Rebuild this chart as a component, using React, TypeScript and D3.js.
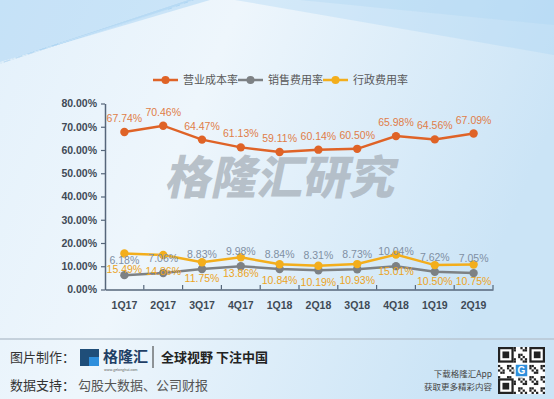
import { useEffect, useRef } from 'react';
import * as d3 from 'd3';

const categories = ['1Q17', '2Q17', '3Q17', '4Q17', '1Q18', '2Q18', '3Q18', '4Q18', '1Q19', '2Q19'];
const costRate = [67.74, 70.46, 64.47, 61.13, 59.11, 60.14, 60.5, 65.98, 64.56, 67.09];
const salesRate = [6.18, 7.06, 8.83, 9.98, 8.84, 8.31, 8.73, 10.04, 7.62, 7.05];
const adminRate = [15.49, 14.86, 11.75, 13.86, 10.84, 10.19, 10.93, 15.01, 10.5, 10.75];
const yTicks = [0, 10, 20, 30, 40, 50, 60, 70, 80];
const seriesNames = ['营业成本率', '销售费用率', '行政费用率'];

const W = 554;
const H = 399;
const FONT = '"Noto Sans CJK SC", "Liberation Sans", Arial, sans-serif';

export default function App() {
  const svgRef = useRef<SVGSVGElement>(null);

  useEffect(() => {
    document.body.style.margin = '0';
    if (!svgRef.current) return;
    const svg = d3.select(svgRef.current);
    svg.selectAll('*').remove();

    // background
    const defs = svg.append('defs');
    const bg = defs.append('linearGradient').attr('id', 'bg').attr('x1', 0).attr('y1', 0).attr('x2', 1).attr('y2', 0.3);
    bg.append('stop').attr('offset', '0%').attr('stop-color', '#e4f1fb');
    bg.append('stop').attr('offset', '40%').attr('stop-color', '#eef6fc');
    bg.append('stop').attr('offset', '100%').attr('stop-color', '#cbe4f6');
    svg.append('rect').attr('width', W).attr('height', H).attr('fill', 'url(#bg)');

    // decorative streaks
    const streak = svg.append('g').attr('fill', 'none');
    d3.range(0, 14).forEach((i) => {
      streak.append('line')
        .attr('x1', -20 + i * 6).attr('y1', 70 - i * 2)
        .attr('x2', 220 - i * 4).attr('y2', -10 + i * 1.5)
        .attr('stroke', i % 2 ? '#ffffff' : '#9fcdf0')
        .attr('stroke-opacity', 0.5)
        .attr('stroke-width', 1);
    });
    svg.append('path')
      .attr('d', 'M0,0 L210,0 L0,62 Z')
      .attr('fill', '#8cc6f0').attr('fill-opacity', 0.35);
    svg.append('path')
      .attr('d', 'M235,0 L554,0 L554,55 Z')
      .attr('fill', '#a9d3f3').attr('fill-opacity', 0.35);
    svg.append('path')
      .attr('d', 'M300,0 L554,0 L554,25 Z')
      .attr('fill', '#a9d3f3').attr('fill-opacity', 0.3);

    // watermark
    svg.append('text')
      .attr('x', 279).attr('y', 194)
      .attr('text-anchor', 'middle')
      .attr('transform', 'translate(279,194) skewX(-12) translate(-279,-194)')
      .attr('fill', '#a7b0b9').attr('fill-opacity', 0.75)
      .style('font-family', FONT).style('font-size', '46px').style('font-weight', 900)
      .text('格隆汇研究');

    const x = d3.scaleBand<string>().domain(categories).range([105, 493]);
    const y = d3.scaleLinear().domain([0, 80]).range([289.5, 103.5]);
    const cx = (c: string) => (x(c) ?? 0) + x.bandwidth() / 2;

    const axisColor = '#56667a';
    // y axis
    const yAxis = svg.append('g').attr('transform', 'translate(105,0)')
      .call(d3.axisLeft(y).tickValues(yTicks).tickSize(4).tickSizeOuter(0).tickFormat((d) => `${Number(d).toFixed(2)}%`));
    yAxis.select('.domain').attr('stroke', axisColor).attr('stroke-width', 1.5);
    yAxis.selectAll('.tick line').attr('stroke', axisColor).attr('stroke-width', 1.2);
    yAxis.selectAll('.tick text')
      .attr('x', -8).attr('fill', '#3f4a56')
      .style('font-family', '"Liberation Sans", Arial, sans-serif')
      .style('font-size', '10.5px').style('font-weight', 'bold');

    // x axis
    const xAxis = svg.append('g').attr('transform', 'translate(0,289.5)')
      .call(d3.axisBottom(x).tickSize(0).tickSizeOuter(0));
    xAxis.select('.domain').attr('stroke', axisColor).attr('stroke-width', 1.5);
    xAxis.selectAll('.tick text')
      .attr('y', 12).attr('fill', '#3f4a56')
      .style('font-family', '"Liberation Sans", Arial, sans-serif')
      .style('font-size', '10.5px').style('font-weight', 'bold');
    categories.forEach((c) => {
      const bx = (x(c) ?? 0) + x.bandwidth();
      svg.append('line')
        .attr('x1', bx).attr('x2', bx).attr('y1', 289.5).attr('y2', 285)
        .attr('stroke', axisColor).attr('stroke-width', 1.2);
    });

    const series = [
      { name: seriesNames[0], values: costRate, color: '#df6327', label: '#e07d48', dy: -10 },
      { name: seriesNames[1], values: salesRate, color: '#7d8184', label: '#7f8fa3', dy: -11 },
      { name: seriesNames[2], values: adminRate, color: '#f3ae1c', label: '#eba41e', dy: 20 },
    ];

    const line = d3.line<number>()
      .x((_, i) => cx(categories[i]))
      .y((d) => y(d));

    [series[1], series[2], series[0]].forEach((s) => {
      svg.append('path').datum(s.values)
        .attr('fill', 'none').attr('stroke', s.color).attr('stroke-width', 2.5)
        .attr('d', line);
      svg.append('g').selectAll('circle').data(s.values).join('circle')
        .attr('cx', (_, i) => cx(categories[i]))
        .attr('cy', (d) => y(d))
        .attr('r', 4.2)
        .attr('fill', s.color);
    });

    series.forEach((s) => {
      svg.append('g').selectAll('text').data(s.values).join('text')
        .attr('x', (_, i) => cx(categories[i]))
        .attr('y', (d) => y(d) + s.dy)
        .attr('text-anchor', 'middle')
        .attr('fill', s.label)
        .style('font-family', '"Liberation Sans", Arial, sans-serif')
        .style('font-size', '10.5px')
        .text((d) => `${d.toFixed(2)}%`);
    });

    // legend
    const legendX = [153, 238, 323];
    series.forEach((s, i) => {
      const g = svg.append('g').attr('transform', `translate(${legendX[i]},80)`);
      g.append('line').attr('x1', 0).attr('x2', 25).attr('stroke', s.color).attr('stroke-width', 2.5);
      g.append('circle').attr('cx', 12.5).attr('r', 4).attr('fill', s.color);
      g.append('text').attr('x', 30).attr('y', 4)
        .attr('fill', '#595959')
        .style('font-family', FONT).style('font-size', '11px')
        .text(s.name);
    });

    // footer
    svg.append('line').attr('x1', 0).attr('x2', W).attr('y1', 339).attr('y2', 339)
      .attr('stroke', '#b9c6d2').attr('stroke-width', 1.5);
    const foot = svg.append('g').style('font-family', FONT);
    foot.append('text').attr('x', 10).attr('y', 362).attr('fill', '#333').style('font-size', '13px').text('图片制作：');
    foot.append('rect').attr('x', 80).attr('y', 349).attr('width', 19).attr('height', 17).attr('fill', '#1f4e79');
    foot.append('rect').attr('x', 89).attr('y', 357).attr('width', 10).attr('height', 9).attr('fill', '#2f8fdc');
    foot.append('text').attr('x', 103).attr('y', 362).attr('fill', '#1f3f66').style('font-size', '15px').style('font-weight', 'bold').text('格隆汇');
    foot.append('text').attr('x', 104).attr('y', 371).attr('fill', '#555').style('font-size', '3.5px').text('www.gelonghui.com');
    foot.append('line').attr('x1', 153).attr('x2', 153).attr('y1', 346).attr('y2', 368).attr('stroke', '#333').attr('stroke-width', 1);
    foot.append('text').attr('x', 161).attr('y', 362).attr('fill', '#222').style('font-size', '13px').style('font-weight', 'bold').text('全球视野 下注中国');
    foot.append('text').attr('x', 10).attr('y', 390).attr('fill', '#333').style('font-size', '13px').text('数据支持：');
    foot.append('text').attr('x', 78).attr('y', 390).attr('fill', '#555').style('font-size', '13px').text('勾股大数据、公司财报');
    foot.append('text').attr('x', 492).attr('y', 377).attr('text-anchor', 'end').attr('fill', '#444').style('font-size', '8.5px').text('下载格隆汇App');
    foot.append('text').attr('x', 492).attr('y', 390).attr('text-anchor', 'end').attr('fill', '#444').style('font-size', '8.5px').text('获取更多精彩内容');

    // qr code decoration
    const qr = svg.append('g').attr('transform', 'translate(498,347)');
    qr.append('rect').attr('width', 47).attr('height', 47).attr('fill', '#fff');
    const cell = 47 / 21;
    for (let r = 0; r < 21; r++) {
      for (let c = 0; c < 21; c++) {
        const inFinder = (r < 7 && c < 7) || (r < 7 && c > 13) || (r > 13 && c < 7);
        if (inFinder) continue;
        if (((r * 7 + c * 13 + r * c) % 5) < 2) {
          qr.append('rect').attr('x', c * cell).attr('y', r * cell).attr('width', cell).attr('height', cell).attr('fill', '#222');
        }
      }
    }
    [[0, 0], [14, 0], [0, 14]].forEach(([c, r]) => {
      qr.append('rect').attr('x', c * cell + cell / 2).attr('y', r * cell + cell / 2).attr('width', 6 * cell).attr('height', 6 * cell)
        .attr('fill', 'none').attr('stroke', '#222').attr('stroke-width', cell);
      qr.append('rect').attr('x', (c + 2) * cell).attr('y', (r + 2) * cell).attr('width', 3 * cell).attr('height', 3 * cell).attr('fill', '#222');
    });
    qr.append('rect').attr('x', 17).attr('y', 17).attr('width', 13).attr('height', 13).attr('fill', '#2f8fdc').attr('stroke', '#fff').attr('stroke-width', 1.5);
    qr.append('text').attr('x', 23.5).attr('y', 27).attr('text-anchor', 'middle').attr('fill', '#fff')
      .style('font-family', '"Liberation Sans", Arial').style('font-size', '10px').style('font-weight', 'bold').text('G');
  }, []);

  return <svg ref={svgRef} width={W} height={H} style={{ display: 'block' }} />;
}
